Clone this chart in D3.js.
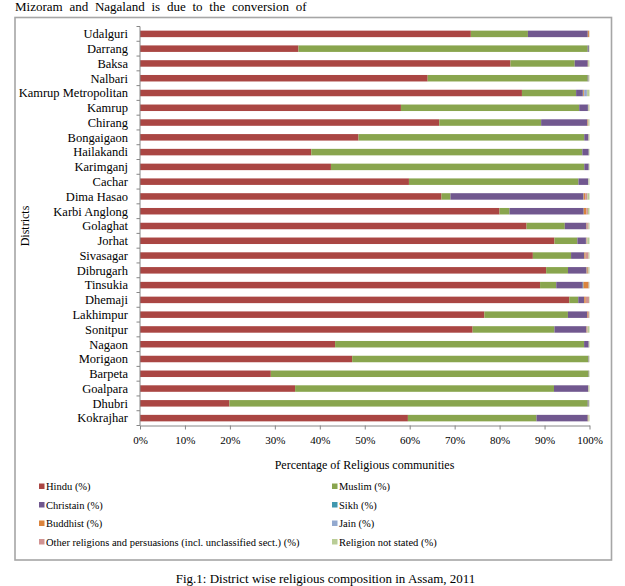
<!DOCTYPE html>
<html>
<head>
<meta charset="utf-8">
<script src="https://cdn.jsdelivr.net/npm/d3@7"></script>
<style>
  body { margin: 0; background: #fff; }
  svg { display: block; font-family: "Liberation Serif", "Times New Roman", serif; }
</style>
</head>
<body>
<svg id="chart" width="625" height="586"></svg>
<script>
const districts = ["Udalguri","Darrang","Baksa","Nalbari","Kamrup Metropolitan","Kamrup","Chirang","Bongaigaon","Hailakandi","Karimganj","Cachar","Dima Hasao","Karbi Anglong","Golaghat","Jorhat","Sivasagar","Dibrugarh","Tinsukia","Dhemaji","Lakhimpur","Sonitpur","Nagaon","Morigaon","Barpeta","Goalpara","Dhubri","Kokrajhar"];
const seriesNames = ["Hindu (%)","Muslim (%)","Christain (%)","Sikh (%)","Buddhist (%)","Jain (%)","Other religions and persuasions (incl. unclassified sect.) (%)","Religion not stated (%)"];
const seriesColors = ["#AA4643","#89A54E","#71588F","#4198AF","#DB843D","#93A9CF","#D19392","#B9CD96"];

const hindu     = [73.6,35.25,82.42,64.0,84.97,58.05,66.58,48.61,38.10,42.48,59.83,67.07,79.98,86.0,92.2,87.4,90.35,89.0,95.5,76.6,74.0,43.4,47.2,29.1,34.5,19.9,59.6];
const muslim    = [12.7,64.34,14.29,35.6,12.05,39.66,22.66,50.22,60.31,56.36,37.71,2.0,2.22,8.5,5.1,8.5,4.87,3.6,2.0,18.6,18.2,55.4,52.5,70.7,57.6,79.7,28.6];
const christian = [13.3,0.25,2.9,0.15,1.49,1.93,10.27,0.91,1.41,0.98,2.13,29.57,16.5,4.8,1.9,2.9,4.1,5.9,1.3,4.3,7.1,1.0,0.1,0.05,7.6,0.2,11.4];
const sikh      = [0.02,0.02,0.01,0.02,0.1,0.03,0.02,0.02,0.01,0.01,0.03,0.05,0.03,0.03,0.03,0.05,0.05,0.15,0.02,0.03,0.03,0.02,0.02,0.01,0.02,0.02,0.02];
const buddhist  = [0.25,0.01,0.05,0.02,0.21,0.08,0.12,0.04,0.01,0.01,0.02,0.32,0.6,0.1,0.12,0.3,0.25,1.15,0.35,0.15,0.1,0.02,0.02,0.01,0.03,0.01,0.1];
const jain      = [0.02,0.02,0.01,0.02,0.59,0.05,0.01,0.03,0.02,0.02,0.05,0.03,0.02,0.05,0.05,0.05,0.05,0.05,0.01,0.02,0.03,0.02,0.01,0.01,0.01,0.01,0.01];
const other     = [0.05,0.01,0.05,0.02,0.05,0.02,0.09,0.02,0.01,0.01,0.03,0.5,0.3,0.3,0.1,0.6,0.1,0.05,0.7,0.2,0.14,0.02,0.01,0.01,0.04,0.01,0.04];
const notStated = [0.1,0.1,0.25,0.15,0.54,0.18,0.25,0.15,0.13,0.13,0.2,0.46,0.35,0.22,0.5,0.2,0.23,0.1,0.12,0.1,0.4,0.12,0.14,0.11,0.2,0.15,0.23];
const xTicks = [0,10,20,30,40,50,60,70,80,90,100];

const columns = [hindu, muslim, christian, sikh, buddhist, jain, other, notStated];
const keys = seriesNames;
const table = districts.map((d, i) => {
  const row = { district: d };
  keys.forEach((k, j) => row[k] = columns[j][i]);
  return row;
});

const svg = d3.select("#chart");

// top text fragment
svg.append("text").attr("x", 15).attr("y", 11).attr("font-size", 13).attr("fill", "#000")
  .attr("word-spacing", 3.5)
  .text("Mizoram and Nagaland is due to the conversion of");

// frame
svg.append("rect").attr("x", 15).attr("y", 17.5).attr("width", 596.5).attr("height", 542.5)
  .attr("fill", "none").attr("stroke", "#a6a6a6").attr("stroke-width", 1.6);

const x = d3.scaleLinear().domain([0, 100]).range([140, 589.5]);
const y = d3.scaleBand().domain(districts).range([26.5, 425.5]).paddingInner(0.56).paddingOuter(0.28);

const stack = d3.stack().keys(keys);
const stacked = stack(table);

const g = svg.append("g");
g.selectAll("g.series").data(stacked).join("g")
  .attr("fill", (d, i) => seriesColors[i])
  .selectAll("rect").data(d => d).join("rect")
  .attr("x", d => x(d[0]))
  .attr("width", d => Math.max(0, x(Math.min(100, d[1])) - x(d[0])))
  .attr("y", d => y(d.data.district))
  .attr("height", y.bandwidth());

// y axis
const yAxisG = svg.append("g").attr("transform", "translate(140,0)");
yAxisG.append("line").attr("x1", 0).attr("x2", 0).attr("y1", 26.5).attr("y2", 425.5).attr("stroke", "#868686");
const step = (425.5 - 26.5) / districts.length;
d3.range(districts.length + 1).forEach(i => {
  yAxisG.append("line").attr("x1", -3.5).attr("x2", 0).attr("y1", 26.5 + i * step).attr("y2", 26.5 + i * step).attr("stroke", "#868686");
});
yAxisG.selectAll("text.lab").data(districts).join("text")
  .attr("x", -12).attr("y", d => y(d) + y.bandwidth() / 2)
  .attr("dy", "0.35em").attr("text-anchor", "end").attr("font-size", 12.5).attr("fill", "#000")
  .text(d => d);

// x axis
const xAxis = d3.axisBottom(x).tickValues(xTicks).tickFormat(d => d + "%").tickSize(4).tickSizeOuter(0);
const xg = svg.append("g").attr("transform", "translate(0,425.5)").call(xAxis);
xg.attr("font-family", null);
xg.select(".domain").attr("stroke", "#868686");
xg.selectAll(".tick line").attr("stroke", "#868686");
xg.selectAll(".tick text").attr("font-family", "Liberation Serif, serif").attr("font-size", 11).attr("fill", "#000").attr("y", 11);

svg.append("text").attr("x", 364.5).attr("y", 469).attr("text-anchor", "middle").attr("font-size", 12).attr("fill", "#000")
  .text("Percentage of Religious communities");

svg.append("text").attr("transform", "translate(29,226) rotate(-90)").attr("text-anchor", "middle").attr("font-size", 12).attr("fill", "#000")
  .text("Districts");

// legend
const legendPos = [[39, 486.5],[332, 486.5],[39, 505],[332, 505],[39, 523.5],[332, 523.5],[39, 542],[332, 542]];
const lg = svg.append("g");
keys.forEach((k, i) => {
  const [lx, ly] = legendPos[i];
  lg.append("rect").attr("x", lx).attr("y", ly - 3).attr("width", 5.5).attr("height", 5.5).attr("fill", seriesColors[i]);
  lg.append("text").attr("x", lx + 7).attr("y", ly).attr("dy", "0.35em").attr("font-size", 10.5).attr("fill", "#000")
    .text(k);
});

// caption
svg.append("text").attr("x", 325.5).attr("y", 583).attr("text-anchor", "middle").attr("font-size", 13).attr("fill", "#000")
  .text("Fig.1: District wise religious composition in Assam, 2011");
</script>
</body>
</html>
